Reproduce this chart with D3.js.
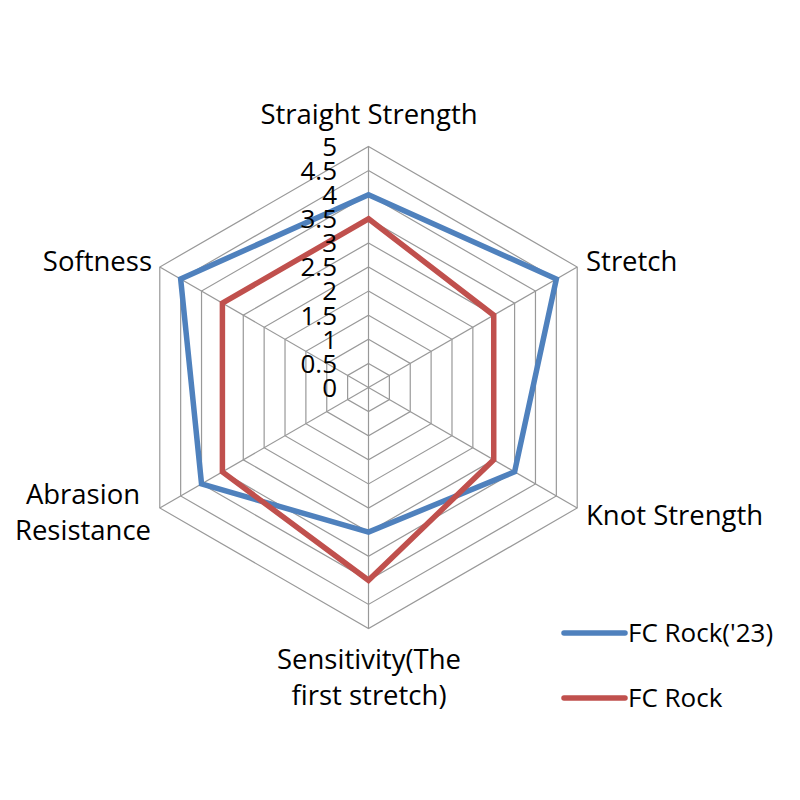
<!DOCTYPE html>
<html lang="en">
<head>
<meta charset="UTF-8">
<title>Radar chart</title>
<script src="https://d3js.org/d3.v7.min.js"></script>
<style>
    body { margin: 0; background: #fff; }
    text { font-family: "Open Sans", Lato, sans-serif; fill: #000; }
    .grid { fill: none; stroke: #999; stroke-width: 1.2px; }
    .series { fill: none; stroke-width: 5.5px; stroke-linejoin: miter; }
</style>
</head>
<body>
<svg width="800" height="800"></svg>
<script>
    const axes = ["Straight Strength", "Stretch", "Knot Strength", "Sensitivity(The first stretch)", "Abrasion Resistance", "Softness"];
    const axisLabelLines = [["Straight Strength"], ["Stretch"], ["Knot Strength"], ["Sensitivity(The", "first stretch)"], ["Abrasion", "Resistance"], ["Softness"]];
    const seriesNames = ["FC Rock('23)", "FC Rock"];
    const seriesValues = [
        [4, 4.5, 3.5, 3, 4, 4.5],
        [3.5, 3, 3, 4, 3.5, 3.5]
    ];
    const colors = ["#4f81bd", "#c0504d"];
    const ticks = [0, 0.5, 1, 1.5, 2, 2.5, 3, 3.5, 4, 4.5, 5];

    const svg = d3.select("svg");
    const cx = 368.5, cy = 387.5;
    const r = d3.scaleLinear().domain([0, 5]).range([0, 241]);
    const angle = i => (-90 + 60 * i) * Math.PI / 180;
    const pt = (i, v) => [cx + r(v) * Math.cos(angle(i)), cy + r(v) * Math.sin(angle(i))];

    // rings
    const g = svg.append("g");
    g.selectAll(".ring")
        .data(ticks.slice(1))
        .enter()
        .append("polygon")
        .attr("class", "grid")
        .attr("points", t => axes.map((a, i) => pt(i, t).join(",")).join(" "));

    // spokes
    g.selectAll(".spoke")
        .data(axes)
        .enter()
        .append("line")
        .attr("class", "grid")
        .attr("x1", cx).attr("y1", cy)
        .attr("x2", (d, i) => pt(i, 5)[0])
        .attr("y2", (d, i) => pt(i, 5)[1]);

    // series
    const line = d3.line().curve(d3.curveLinearClosed);
    svg.selectAll(".series")
        .data(seriesValues)
        .enter()
        .append("path")
        .attr("class", "series")
        .attr("stroke", (d, k) => colors[k])
        .attr("d", vals => line(vals.map((v, i) => pt(i, v))));

    // tick labels (they overlap in the original too)
    svg.selectAll(".tick")
        .data(ticks)
        .enter()
        .append("text")
        .attr("x", 337)
        .attr("y", t => cy - r(t))
        .attr("dy", "0.36em")
        .attr("text-anchor", "end")
        .style("font-size", "26px")
        .text(t => t);

    // axis labels
    const labelPos = [
        { x: 369, y: 124, anchor: "middle" },
        { x: 586, y: 271, anchor: "start" },
        { x: 586, y: 525, anchor: "start" },
        { x: 369, y: 669, anchor: "middle" },
        { x: 83, y: 504, anchor: "middle" },
        { x: 152, y: 271, anchor: "end" }
    ];
    axisLabelLines.forEach((lines, i) => {
        const t = svg.append("text")
            .attr("x", labelPos[i].x)
            .attr("y", labelPos[i].y)
            .attr("text-anchor", labelPos[i].anchor)
            .style("font-size", "27.5px");
        lines.forEach((s, j) => {
            t.append("tspan")
                .attr("x", labelPos[i].x)
                .attr("dy", j === 0 ? 0 : 36)
                .text(s);
        });
    });

    // legend
    const legend = svg.append("g");
    seriesNames.forEach((name, k) => {
        const y = 633 + k * 65;
        legend.append("line")
            .attr("x1", 564).attr("x2", 625)
            .attr("y1", y).attr("y2", y)
            .attr("stroke", colors[k])
            .attr("stroke-width", 5.5)
            .attr("stroke-linecap", "round");
        legend.append("text")
            .attr("x", 628).attr("y", y)
            .attr("dy", "0.36em")
            .style("font-size", "26px")
            .text(name);
    });
</script>
</body>
</html>
